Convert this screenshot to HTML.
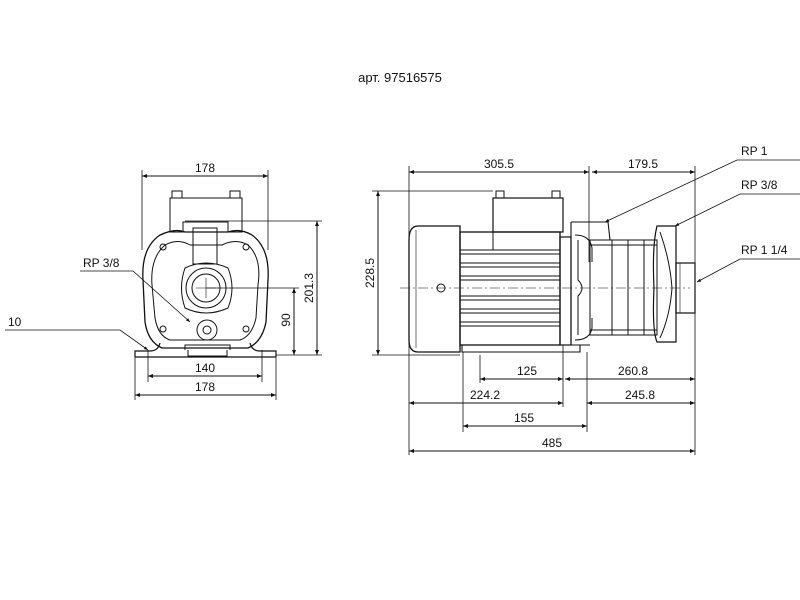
<!DOCTYPE html>
<html><head><meta charset="utf-8"><style>
html,body{margin:0;padding:0;background:#fff;width:800px;height:600px;overflow:hidden}
svg{display:block}
text{font-family:"Liberation Sans",sans-serif;font-size:12px;fill:#111}
</style></head><body>
<svg width="800" height="600" viewBox="0 0 800 600" xmlns="http://www.w3.org/2000/svg">
<defs>
<marker id="a" viewBox="0 0 10 10" refX="10" refY="5" markerWidth="7" markerHeight="5" orient="auto-start-reverse"><path d="M0,1 L10,5 L0,9 z" fill="#111"/></marker>
</defs>
<text x="400" y="82" text-anchor="middle" style="font-size:13px">арт. 97516575</text>

<g stroke="#111" fill="none" stroke-width="1">
<!-- LEFT VIEW -->
<!-- extension lines -->
<line x1="142" y1="170" x2="142" y2="250" stroke-width="0.8"/>
<line x1="268" y1="170" x2="268" y2="250" stroke-width="0.8"/>
<line x1="142" y1="176" x2="268" y2="176" marker-start="url(#a)" marker-end="url(#a)"/>
<line x1="185" y1="221" x2="322" y2="221" stroke-width="0.8"/>
<line x1="317" y1="221" x2="317" y2="355" marker-start="url(#a)" marker-end="url(#a)"/>
<line x1="206" y1="288" x2="299" y2="288" stroke-width="0.8"/>
<line x1="294" y1="288" x2="294" y2="355" marker-start="url(#a)" marker-end="url(#a)"/>
<line x1="276" y1="355" x2="322" y2="355" stroke-width="0.8"/>
<line x1="148" y1="350" x2="148" y2="382" stroke-width="0.8"/>
<line x1="262" y1="350" x2="262" y2="382" stroke-width="0.8"/>
<line x1="148" y1="376" x2="262" y2="376" marker-start="url(#a)" marker-end="url(#a)"/>
<line x1="135" y1="357" x2="135" y2="400" stroke-width="0.8"/>
<line x1="276" y1="357" x2="276" y2="400" stroke-width="0.8"/>
<line x1="135" y1="395" x2="276" y2="395" marker-start="url(#a)" marker-end="url(#a)"/>
<!-- terminal box -->
<rect x="170" y="198" width="72" height="34"/>
<rect x="172" y="191" width="10" height="7"/><rect x="230" y="191" width="10" height="7"/>
<path d="M183,232 V222 H228 V232"/>
<rect x="193" y="228" width="24" height="36"/>
<!-- body -->
<path d="M160,235 Q175,228 185,232 L228,232 Q240,228 252,235 Q270,248 268,280 L266,322 Q262,342 248,348 L162,348 Q148,342 145,322 L143,280 Q141,248 160,235 z" stroke-width="1.3"/>
<path d="M165,245 Q178,238 190,245 L222,245 Q236,238 248,245 Q262,258 258,285 L256,318 Q252,336 240,340 L170,340 Q158,336 155,318 L152,285 Q150,258 165,245 z"/>
<circle cx="163" cy="247" r="3"/><circle cx="246" cy="247" r="3"/><circle cx="163" cy="329" r="3"/><circle cx="246" cy="329" r="3"/>
<path d="M185,268 Q206,258 228,268 Q236,288 228,308 Q206,318 185,308 Q178,288 185,268 z"/>
<circle cx="206" cy="288" r="20"/>
<circle cx="206" cy="288" r="14"/>
<line x1="196" y1="288" x2="216" y2="288" stroke-width="0.6"/><line x1="206" y1="278" x2="206" y2="298" stroke-width="0.6"/>
<circle cx="207" cy="330" r="10"/><circle cx="207" cy="330" r="4"/>
<path d="M185,350 V345 H230 V350 M188,350 V356 H227 V350"/>
<!-- base -->
<path d="M135,357 V351 H150 Q158,351 160,343 M276,357 V351 H260 Q252,351 250,343" stroke-width="1.2"/>
<line x1="135" y1="357" x2="276" y2="357" stroke-width="1.2"/>
<!-- leaders -->
<polyline points="80,271 133,271 190,322" stroke-width="0.8" marker-end="url(#a)"/>
<polyline points="5,330 120,330 148,350" stroke-width="0.8" marker-end="url(#a)"/>

<!-- RIGHT VIEW -->
<line x1="409" y1="166" x2="409" y2="455" stroke-width="0.8"/>
<line x1="695" y1="166" x2="695" y2="455" stroke-width="0.8"/>
<line x1="589" y1="166" x2="589" y2="262" stroke-width="0.8"/>
<line x1="409" y1="172" x2="589" y2="172" marker-start="url(#a)" marker-end="url(#a)"/>
<line x1="592" y1="172" x2="695" y2="172" marker-start="url(#a)" marker-end="url(#a)"/>
<line x1="372" y1="191" x2="493" y2="191" stroke-width="0.8"/>
<line x1="372" y1="355" x2="460" y2="355" stroke-width="0.8"/>
<line x1="378" y1="191" x2="378" y2="355" marker-start="url(#a)" marker-end="url(#a)"/>
<!-- motor -->
<path d="M460,226 H418 Q409,226 409,240 V340 Q409,352 418,352 H460 z" stroke-width="1.3"/>
<line x1="416" y1="230" x2="416" y2="348" stroke-width="0.6"/>
<rect x="460" y="232" width="100" height="113" stroke-width="1.3"/>
<g stroke-width="0.9">
<line x1="460" y1="250" x2="560" y2="250"/><line x1="460" y1="254" x2="560" y2="254"/>
<line x1="460" y1="263" x2="560" y2="263"/><line x1="460" y1="267" x2="560" y2="267"/>
<line x1="460" y1="276" x2="560" y2="276"/><line x1="460" y1="280" x2="560" y2="280"/>
<line x1="460" y1="296" x2="560" y2="296"/><line x1="460" y1="300" x2="560" y2="300"/>
<line x1="460" y1="309" x2="560" y2="309"/><line x1="460" y1="313" x2="560" y2="313"/>
<line x1="460" y1="322" x2="560" y2="322"/><line x1="460" y1="326" x2="560" y2="326"/>
</g>
<rect x="493" y="198" width="70" height="34" stroke-width="1.2"/>
<rect x="496" y="191" width="8" height="7"/><rect x="552" y="191" width="8" height="7"/>
<rect x="493" y="232" width="67" height="18"/>
<circle cx="441" cy="288" r="4"/>
<line x1="400" y1="288" x2="690" y2="288" stroke-width="0.6" stroke-dasharray="10,3,2,3"/>
<!-- feet -->
<path d="M462,345 V352 H580 V345" stroke-width="1.1"/>
<!-- pump -->
<rect x="560" y="237" width="11" height="108" stroke-width="1.2"/>
<path d="M571,222 H608 L610,240 M571,222 V345 H590" stroke-width="1.1"/>
<path d="M575,235 Q590,235 592,248 V262 M575,340 Q590,340 592,328 V318"/>
<path d="M578,240 V280 Q586,288 578,296 V335"/>
<rect x="590" y="240" width="67" height="95"/>
<line x1="590" y1="245" x2="657" y2="245"/><line x1="590" y1="330" x2="657" y2="330"/>
<line x1="612" y1="240" x2="612" y2="335"/><line x1="628" y1="240" x2="628" y2="335"/><line x1="644" y1="240" x2="644" y2="335"/>
<path d="M657,226 H676 V342 H657 Q652,330 654,288 Q652,246 657,226 z" stroke-width="1.2"/>
<path d="M660,232 Q670,260 672,288 Q670,316 660,338"/>
<rect x="676" y="263" width="19" height="50" stroke-width="1.2"/>
<line x1="680" y1="263" x2="680" y2="313" stroke-width="0.6"/>
<!-- lower dims -->
<line x1="463" y1="352" x2="463" y2="432" stroke-width="0.8"/>
<line x1="480" y1="355" x2="480" y2="383" stroke-width="0.8"/>
<line x1="563" y1="345" x2="563" y2="407" stroke-width="0.8"/>
<line x1="587" y1="352" x2="587" y2="432" stroke-width="0.8"/>
<line x1="480" y1="379" x2="563" y2="379" marker-start="url(#a)" marker-end="url(#a)"/>
<line x1="565" y1="379" x2="695" y2="379" marker-start="url(#a)" marker-end="url(#a)"/>
<line x1="409" y1="403" x2="563" y2="403" marker-start="url(#a)" marker-end="url(#a)"/>
<line x1="587" y1="403" x2="695" y2="403" marker-start="url(#a)" marker-end="url(#a)"/>
<line x1="463" y1="426" x2="587" y2="426" marker-start="url(#a)" marker-end="url(#a)"/>
<line x1="409" y1="451" x2="695" y2="451" marker-start="url(#a)" marker-end="url(#a)"/>
<!-- leaders -->
<polyline points="800,160 737,160 605,222" stroke-width="0.8" marker-end="url(#a)"/>
<polyline points="800,194 740,194 675,226" stroke-width="0.8" marker-end="url(#a)"/>
<polyline points="800,259 740,259 697,282" stroke-width="0.8" marker-end="url(#a)"/>
</g>

<text x="205" y="172" text-anchor="middle">178</text>
<text x="83" y="267">RP 3/8</text>
<text x="8" y="326">10</text>
<text x="205" y="372" text-anchor="middle">140</text>
<text x="205" y="391" text-anchor="middle">178</text>
<text transform="translate(313,288) rotate(-90)" text-anchor="middle">201.3</text>
<text transform="translate(290,320) rotate(-90)" text-anchor="middle">90</text>

<text x="499" y="168" text-anchor="middle">305.5</text>
<text x="643" y="168" text-anchor="middle">179.5</text>
<text transform="translate(374,273) rotate(-90)" text-anchor="middle">228.5</text>
<text x="741" y="155">RP 1</text>
<text x="741" y="189">RP 3/8</text>
<text x="741" y="254">RP 1 1/4</text>
<text x="527" y="375" text-anchor="middle">125</text>
<text x="633" y="375" text-anchor="middle">260.8</text>
<text x="485" y="399" text-anchor="middle">224.2</text>
<text x="640" y="399" text-anchor="middle">245.8</text>
<text x="524" y="422" text-anchor="middle">155</text>
<text x="552" y="447" text-anchor="middle">485</text>
</svg>
</body></html>
